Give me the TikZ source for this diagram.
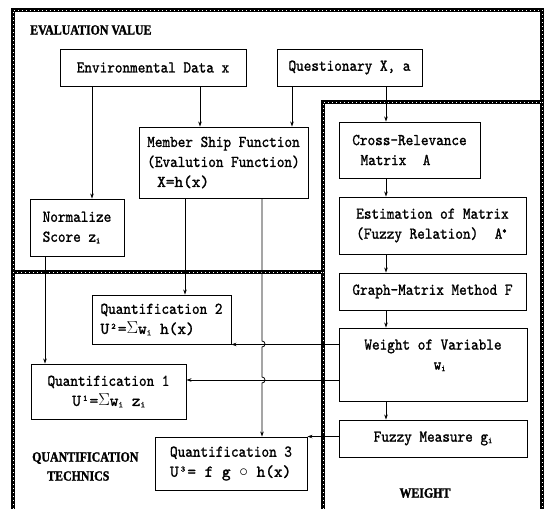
\documentclass[tikz,border=0pt]{standalone}
\usepackage{fontspec}
\usetikzlibrary{arrows.meta}
\newfontfamily\boxfont{lmmono10-regular.otf}[FakeStretch=0.88,FakeBold=1.2]
\newfontfamily\wfont{lmmono10-regular.otf}[FakeBold=1.4]
\newfontfamily\hfont{Liberation Serif}[FakeStretch=0.85,FakeBold=1.5]
\newcommand\ssub[1]{\raisebox{-1.5pt}{\fontsize{9}{9}\selectfont #1}}
\newcommand\ssup[1]{\raisebox{5pt}{\fontsize{9}{9}\selectfont #1}}
\tikzset{
  hatchline/.style={draw=black, line width=4pt, line join=miter,
    postaction={draw=white, line width=0.7pt, dash pattern=on 0.7pt off 3.3pt}},
  box/.style={draw, line width=0.9pt, inner sep=0pt, align=left, fill=white,
    font=\boxfont\fontsize{16.5}{20}\selectfont},
  conn/.style={line width=0.8pt, -{Stealth[length=5pt,width=3.5pt]}},
  head/.style={inner sep=0pt, align=left, font=\hfont\bfseries\fontsize{14}{19}\selectfont}
}
\begin{document}
\begin{tikzpicture}[x=1pt,y=-1pt]
\useasboundingbox (0,0) rectangle (546,509);
\fill[white] (0,0) rectangle (546,509);

% region borders
\path[hatchline] (13,509) -- (13,10) -- (542,10) -- (542,509);
\path[hatchline] (323,509) -- (323,102) -- (542,102);
\path[hatchline] (13,272) -- (323,272);

% headings
\node[head, anchor=west] (tev) at (30,30) {EVALUATION VALUE};
\node[head, anchor=west] (tqt) at (32,466.5) {QUANTIFICATION\\\hspace{15pt}TECHNICS};
\node[head] (twt) at (425,493) {WEIGHT};

% boxes
\node[box, minimum width=186pt, minimum height=37pt] (env) at (153,67.5) {Environmental Data x};
\node[box, minimum width=145pt, minimum height=37pt] (quest) at (349.5,67.5) {Questionary X, a};
\node[box, minimum width=169pt, minimum height=71pt] (msf) at (223.5,162.5)
  {Member Ship Function\\(Evalution Function)\\\hspace{0.6em}{\wfont X=h(x)}};
\node[box, minimum width=141pt, minimum height=56pt] (cr) at (409.5,150)
  {Cross-Relevance\\\hspace{0.5em}Matrix\hspace{1em}A};
\node[box, minimum width=94pt, minimum height=57pt] (norm) at (77,227.5)
  {Normalize\\Score z\ssub{i}};
\node[box, minimum width=187pt, minimum height=57pt] (est) at (432.5,225.5)
  {Estimation of Matrix\\(Fuzzy Relation)\hspace{1em}A\ssup{*}};
\node[box, minimum width=187pt, minimum height=37pt] (gmm) at (432.5,291.5)
  {Graph-Matrix Method F};
\node[box, minimum width=188pt, minimum height=73pt] (wov) at (433,364.5)
  {Weight of Variable\\\hspace{4.2em}w\ssub{i}\\\mbox{}};
\node[box, minimum width=188pt, minimum height=37pt] (fm) at (433,438.5)
  {Fuzzy Measure g\ssub{i}};
\node[box, minimum width=139pt, minimum height=49pt] (q2) at (161.5,319.5)
  {Quantification 2\\{\wfont U²=$\Sigma$w\ssub{i} h(x)}};
\node[box, minimum width=155pt, minimum height=55pt] (q1) at (108.5,391.5)
  {Quantification 1\\\hspace{1.5em}{\wfont U¹=$\Sigma$w\ssub{i} z\ssub{i}}};
\node[box, minimum width=152pt, minimum height=53pt] (q3) at (231,463.5)
  {Quantification 3\\{\wfont U³= f g $\circ$ h(x)}};

% column / row helper coordinates
\coordinate (cA) at (92,0);
\coordinate (cB) at (200,0);
\coordinate (cC) at (292,0);
\coordinate (cD) at (386,0);
\coordinate (cE) at (185,0);
\coordinate (cF) at (262,0);
\coordinate (cG) at (45,0);
\coordinate (hB) at (0,380);

% connectors
\draw[conn] (env.south -| cA) -- (norm.north -| cA);
\draw[conn] (env.south -| cB) -- (msf.north -| cB);
\draw[conn] (quest.south -| cC) -- (msf.north -| cC);
\draw[conn] (quest.south -| cD) -- (cr.north -| cD);
\draw[conn] (cr.south -| cD) -- (est.north -| cD);
\draw[conn] (est.south -| cD) -- (gmm.north -| cD);
\draw[conn] (gmm.south -| cD) -- (wov.north -| cD);
\draw[conn] (wov.south -| cD) -- (fm.north -| cD);
\draw[conn] (msf.south -| cE) -- (q2.north -| cE);
\draw[conn] (norm.south -| cG) -- (q1.north -| cG);
\draw[conn] (msf.south -| cF) -- (262,341)
  arc[start angle=90, end angle=-90, radius=3pt] -- (262,377)
  arc[start angle=90, end angle=-90, radius=3pt] -- (q3.north -| cF);
\draw[conn] (wov.west |- q2.south east) -- (q2.south east);
\draw[conn] (wov.west |- hB) -- (q1.east |- hB);
\draw[conn] (fm.west |- q3.north east) -- (q3.north east);
\end{tikzpicture}
\end{document}
